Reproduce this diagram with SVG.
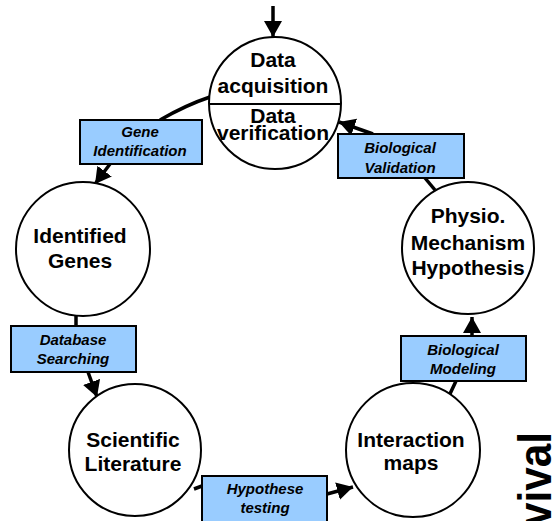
<svg xmlns="http://www.w3.org/2000/svg" width="555" height="521" viewBox="0 0 555 521">
  <style>
    .node circle { fill: #fff; stroke: #000; stroke-width: 2; }
    .node text { font-family: "Liberation Sans", Arial, sans-serif; font-weight: bold; font-size: 21px; fill: #000; text-anchor: middle; }
    .step rect { fill: #99ccff; stroke: #000; stroke-width: 2; }
    .step text { font-family: "Liberation Sans", Arial, sans-serif; font-weight: bold; font-style: italic; font-size: 15px; fill: #000; text-anchor: middle; }
    .link { fill: none; stroke: #000; stroke-width: 3.5; }
    .big { font-family: "Liberation Sans", Arial, sans-serif; font-weight: bold; font-size: 46px; fill: #000; text-anchor: end; }
  </style>
  <defs>
    <marker id="head" markerUnits="userSpaceOnUse" markerWidth="17" markerHeight="20" refX="16" refY="10" orient="auto">
      <path d="M0,1 L16,10 L0,19 Z" fill="#000"/>
    </marker>
  </defs>

  <!-- connectors -->
  <g id="connectors">
    <line class="link" x1="273" y1="6" x2="273" y2="37" marker-end="url(#head)"/>
    <path class="link" d="M210,97 Q186,105 160,120"/>
    <line class="link" x1="110" y1="164" x2="95" y2="184" marker-end="url(#head)"/>
    <line class="link" x1="76" y1="315" x2="76" y2="326"/>
    <line class="link" x1="88" y1="372" x2="97" y2="397" marker-end="url(#head)"/>
    <line class="link" x1="194" y1="489" x2="202" y2="486"/>
    <line class="link" x1="327" y1="494" x2="353" y2="487" marker-end="url(#head)"/>
    <line class="link" x1="449" y1="396" x2="456" y2="381"/>
    <line class="link" x1="472" y1="336" x2="472" y2="317" marker-end="url(#head)"/>
    <line class="link" x1="435" y1="190" x2="425" y2="178"/>
    <line class="link" x1="373" y1="134" x2="339" y2="122" marker-end="url(#head)"/>
  </g>

  <!-- cycle nodes -->
  <g id="data" class="node">
    <circle cx="275" cy="103" r="66"/>
    <line x1="209" y1="104" x2="341" y2="104" stroke="#000" stroke-width="2"/>
    <text x="273" y="67">Data</text>
    <text x="273" y="93">acquisition</text>
    <text x="273" y="123">Data</text>
    <text x="273" y="140">verification</text>
  </g>

  <g id="genes" class="node">
    <circle cx="83" cy="249" r="67"/>
    <text x="80" y="243">Identified</text>
    <text x="80" y="268">Genes</text>
  </g>

  <g id="literature" class="node">
    <circle cx="135" cy="450" r="66"/>
    <text x="133" y="447">Scientific</text>
    <text x="133" y="471">Literature</text>
  </g>

  <g id="maps" class="node">
    <circle cx="413" cy="450" r="67"/>
    <text x="411" y="447">Interaction</text>
    <text x="411" y="470">maps</text>
  </g>

  <g id="hypothesis" class="node">
    <circle cx="468" cy="248" r="66"/>
    <text x="468" y="223">Physio.</text>
    <text x="468" y="250">Mechanism</text>
    <text x="468" y="275">Hypothesis</text>
  </g>

  <!-- process labels -->
  <g id="gene-identification" class="step">
    <rect x="80" y="120" width="122" height="44"/>
    <text x="140" y="137">Gene</text>
    <text x="140" y="156">Identification</text>
  </g>

  <g id="database-searching" class="step">
    <rect x="11" y="326" width="125" height="46"/>
    <text x="73" y="345">Database</text>
    <text x="73" y="364">Searching</text>
  </g>

  <g id="hypothese-testing" class="step">
    <rect x="202" y="476" width="125" height="50"/>
    <text x="265" y="494">Hypothese</text>
    <text x="265" y="513">testing</text>
  </g>

  <g id="biological-modeling" class="step">
    <rect x="401" y="336" width="125" height="45"/>
    <text x="463" y="355">Biological</text>
    <text x="463" y="374">Modeling</text>
  </g>

  <g id="biological-validation" class="step">
    <rect x="338" y="134" width="126" height="44"/>
    <text x="400" y="153">Biological</text>
    <text x="400" y="173">Validation</text>
  </g>

  <!-- vertical caption -->
  <text class="big" transform="translate(551,432) rotate(-90) scale(0.92,1)">vival</text>
</svg>
